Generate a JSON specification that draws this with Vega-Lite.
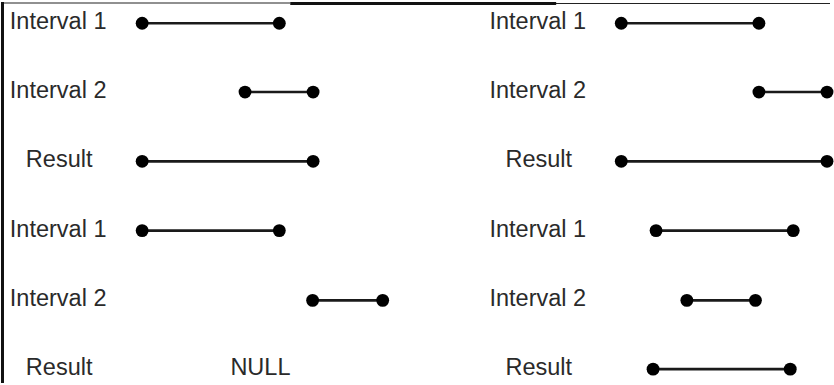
{
  "$schema": "https://vega.github.io/schema/vega-lite/v6.json",
  "autosize": {"type": "fit", "contains": "padding"},
  "width": 834,
  "height": 385,
  "padding": 0,
  "background": "white",
  "config": {"view": {"stroke": null}},
  "datasets": {
    "segs": [
      {"panel": "left", "row": "Interval 1", "start": 142, "end": 280, "y": 21.5},
      {"panel": "left", "row": "Interval 2", "start": 245.5, "end": 314, "y": 91},
      {"panel": "left", "row": "Result", "start": 142, "end": 314, "y": 161},
      {"panel": "left", "row": "Interval 1", "start": 142, "end": 280, "y": 231},
      {"panel": "left", "row": "Interval 2", "start": 313.5, "end": 384, "y": 301.5},
      {"panel": "right", "row": "Interval 1", "start": 624, "end": 762.5, "y": 21.5},
      {"panel": "right", "row": "Interval 2", "start": 762.5, "end": 831, "y": 91},
      {"panel": "right", "row": "Result", "start": 624, "end": 831, "y": 161},
      {"panel": "right", "row": "Interval 1", "start": 659, "end": 797, "y": 231},
      {"panel": "right", "row": "Interval 2", "start": 690, "end": 759, "y": 301.5},
      {"panel": "right", "row": "Result", "start": 656, "end": 794, "y": 371}
    ],
    "labels": [
      {"text": "Interval 1", "x": 57.5, "y": 21.5},
      {"text": "Interval 2", "x": 57.5, "y": 91},
      {"text": "Result", "x": 58.5, "y": 161},
      {"text": "Interval 1", "x": 57.5, "y": 231},
      {"text": "Interval 2", "x": 57.5, "y": 301.5},
      {"text": "Result", "x": 58.5, "y": 371},
      {"text": "NULL", "x": 261, "y": 371},
      {"text": "Interval 1", "x": 540, "y": 21.5},
      {"text": "Interval 2", "x": 540, "y": 91},
      {"text": "Result", "x": 541, "y": 161},
      {"text": "Interval 1", "x": 540, "y": 231},
      {"text": "Interval 2", "x": 540, "y": 301.5},
      {"text": "Result", "x": 541, "y": 371}
    ],
    "frameThin": [
      {"x": 0, "x2": 291, "y": 1, "y2": 1},
      {"x": 557, "x2": 834, "y": 1.5, "y2": 1.5}
    ],
    "frameThick": [
      {"x": 1.5, "x2": 1.5, "y": 0, "y2": 385},
      {"x": 291, "x2": 557, "y": 1.5, "y2": 1.5},
      {"x": 557, "x2": 557, "y": 0, "y2": 3}
    ]
  },
  "layer": [
    {
      "data": {"name": "frameThin"},
      "mark": {"type": "rule", "color": "#222", "strokeWidth": 1.2},
      "encoding": {
        "x": {"field": "x", "type": "quantitative", "scale": {"domain": [0, 834], "nice": false, "zero": false}, "axis": null},
        "x2": {"field": "x2"},
        "y": {"field": "y", "type": "quantitative", "scale": {"domain": [0, 385], "nice": false, "zero": false, "reverse": true}, "axis": null},
        "y2": {"field": "y2"}
      }
    },
    {
      "data": {"name": "frameThick"},
      "mark": {"type": "rule", "color": "#111", "strokeWidth": 3},
      "encoding": {
        "x": {"field": "x", "type": "quantitative", "axis": null},
        "x2": {"field": "x2"},
        "y": {"field": "y", "type": "quantitative", "axis": null},
        "y2": {"field": "y2"}
      }
    },
    {
      "data": {"name": "segs"},
      "mark": {"type": "rule", "color": "#1a1a1a", "strokeWidth": 2.6},
      "encoding": {
        "x": {"field": "start", "type": "quantitative", "axis": null},
        "x2": {"field": "end"},
        "y": {"field": "y", "type": "quantitative", "axis": null}
      }
    },
    {
      "data": {"name": "segs"},
      "transform": [{"fold": ["start", "end"], "as": ["side", "xpos"]}],
      "mark": {"type": "circle", "color": "#000", "opacity": 1, "size": 165},
      "encoding": {
        "x": {"field": "xpos", "type": "quantitative", "axis": null},
        "y": {"field": "y", "type": "quantitative", "axis": null}
      }
    },
    {
      "data": {"name": "labels"},
      "mark": {"type": "text", "font": "Liberation Sans", "fontSize": 23.5, "color": "#2a2a2a", "align": "center", "baseline": "middle", "dy": -1},
      "encoding": {
        "x": {"field": "x", "type": "quantitative", "axis": null},
        "y": {"field": "y", "type": "quantitative", "axis": null},
        "text": {"field": "text"}
      }
    }
  ]
}
